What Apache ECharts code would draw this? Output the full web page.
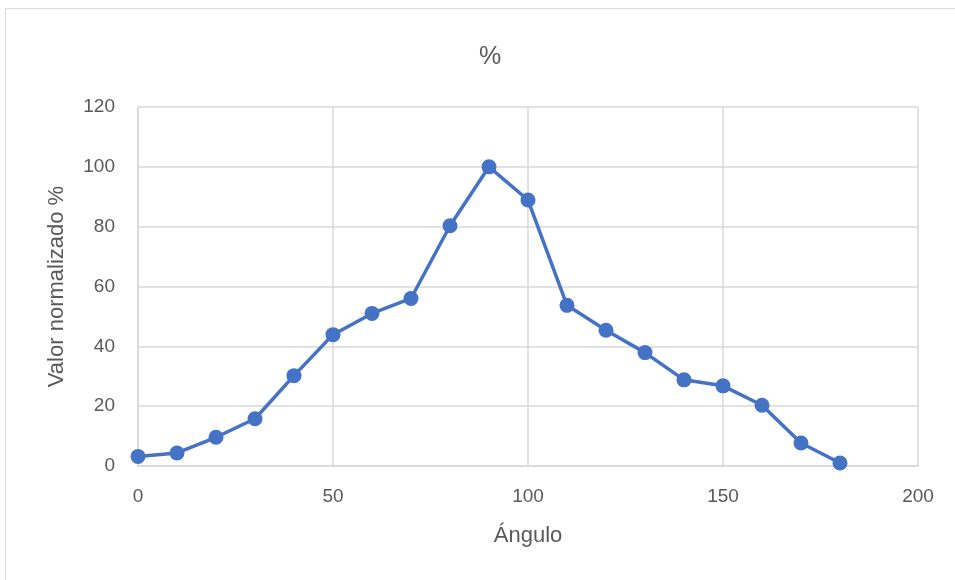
<!DOCTYPE html>
<html><head><meta charset="utf-8">
<script src="https://cdn.jsdelivr.net/npm/echarts@6/dist/echarts.min.js"></script>
<style>html,body{margin:0;padding:0;background:#fff}#c{width:955px;height:580px}</style>
</head><body><div id="c"></div>
<script>
const angles = [0,10,20,30,40,50,60,70,80,90,100,110,120,130,140,150,160,170,180];
const values = [3.2,4.35,9.6,15.8,30.2,43.9,51.0,56.0,80.3,100,88.9,53.7,45.4,37.9,28.8,26.8,20.3,7.7,1.0];
const titleText = '%';
const xName = 'Ángulo';
const yName = 'Valor normalizado %';

const chart = echarts.init(document.getElementById('c'), null, {renderer:'canvas'});
const font = '"Liberation Sans", "Noto Sans", sans-serif';
chart.setOption({
  animation:false,
  backgroundColor:'#fff',
  graphic:[{type:'rect',shape:{x:5.5,y:8.5,width:1000,height:700},style:{fill:'none',stroke:'#d9d9d9',lineWidth:1},silent:true}],
  title:{text:titleText,left:474,top:40,textStyle:{fontFamily:font,fontSize:25,fontWeight:'normal',color:'#595959'}},
  grid:{left:138,right:37,top:107,bottom:114},
  xAxis:{type:'value',min:0,max:200,interval:50,name:xName,nameLocation:'middle',nameGap:59,
    nameTextStyle:{fontFamily:font,fontSize:22,color:'#595959'},
    axisLine:{show:true,lineStyle:{color:'#d9d9d9',width:1.5}},axisTick:{show:false},
    axisLabel:{fontFamily:font,fontSize:19,color:'#595959',margin:21},
    splitLine:{show:true,lineStyle:{color:'#d9d9d9',width:1.5}}},
  yAxis:{type:'value',min:0,max:120,interval:20,name:yName,nameLocation:'middle',nameGap:70,
    nameTextStyle:{fontFamily:font,fontSize:22,color:'#595959'},
    axisLine:{show:true,lineStyle:{color:'#d9d9d9',width:1.5}},axisTick:{show:false},
    axisLabel:{fontFamily:font,fontSize:19,color:'#595959',margin:23},
    splitLine:{show:true,lineStyle:{color:'#d9d9d9',width:1.5}}},
  series:[{type:'line',data:angles.map((a,i)=>[a,values[i]]),
    lineStyle:{color:'#4472C4',width:3.5},itemStyle:{color:'#4472C4'},
    symbol:'circle',symbolSize:15,showSymbol:true}]
});
</script></body></html>
